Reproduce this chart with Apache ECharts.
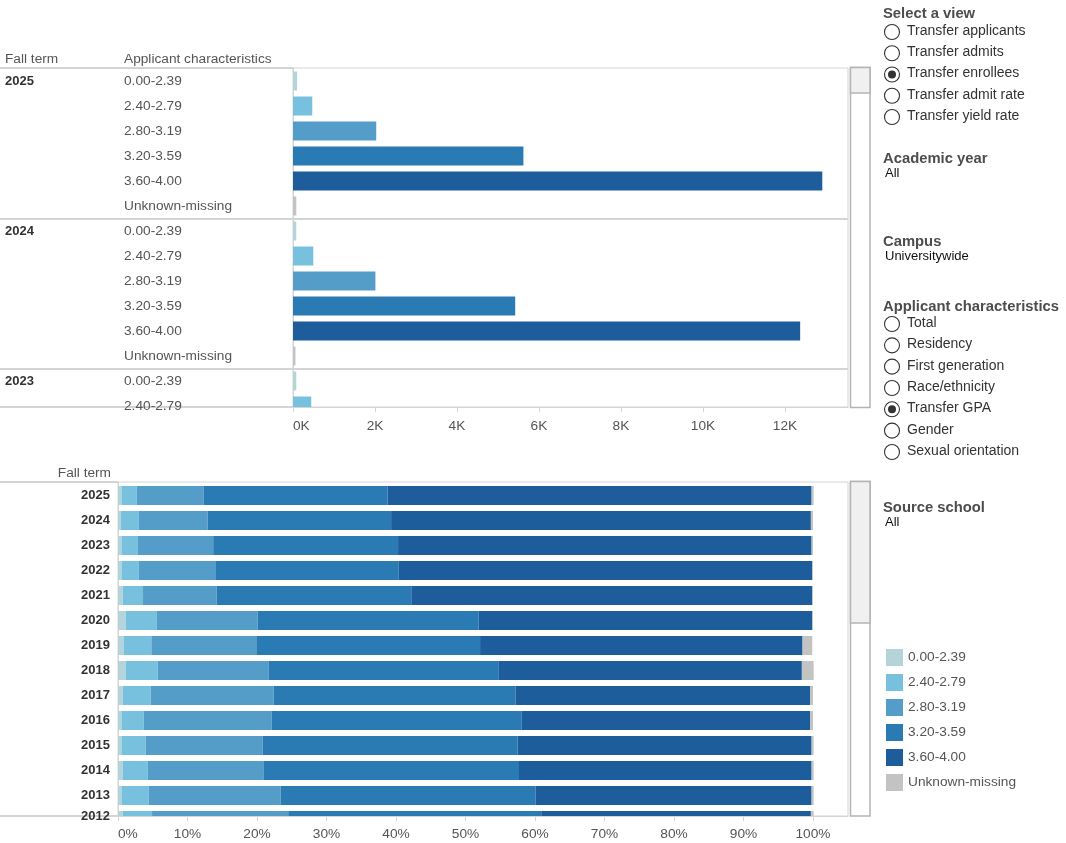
<!DOCTYPE html>
<html>
<head>
<meta charset="utf-8">
<title>Transfer enrollees by transfer GPA</title>
<script src="https://cdn.jsdelivr.net/npm/echarts@6/dist/echarts.min.js"></script>
<style>
  html, body { margin: 0; padding: 0; background: #fff; }
  #chart { width: 1066px; height: 843px; }
</style>
</head>
<body>
<div id="chart"></div>
<script>
// GPA bands, in legend order
const gpaBands = ["0.00-2.39", "2.40-2.79", "2.80-3.19", "3.20-3.59", "3.60-4.00", "Unknown-missing"];
const bandColors = ["#b4d4da", "#77c1de", "#559dc9", "#2a7ab3", "#1d5d9b", "#c3c3c3"];

// top panel: enrollee counts (only the rows visible in the scrolled view)
const topYears = ["2025", "2024", "2023"];
const enrollees2025 = [100, 470, 2030, 5620, 12910, 80];
const enrollees2024 = [80, 495, 2010, 5420, 12370, 60];
const enrollees2023 = [80, 445];
const topCounts = [enrollees2025, enrollees2024, enrollees2023];
const countTicks = [0, 2000, 4000, 6000, 8000, 10000, 12000];

// bottom panel: share of enrollees (%) per fall term
const fallTerms = ["2025", "2024", "2023", "2022", "2021", "2020", "2019", "2018", "2017", "2016", "2015", "2014", "2013", "2012"];
const shareGpa000 = [0.5, 0.4, 0.5, 0.5, 0.7, 1.1, 0.8, 1.1, 0.7, 0.5, 0.5, 0.7, 0.5, 0.7];
const shareGpa240 = [2.2, 2.6, 2.3, 2.5, 2.9, 4.5, 4.0, 4.6, 4.0, 3.2, 3.5, 3.6, 3.9, 4.2];
const shareGpa280 = [9.6, 9.9, 10.9, 11.1, 10.6, 14.5, 15.1, 16.0, 17.7, 18.4, 16.8, 16.7, 19.0, 19.6];
const shareGpa320 = [26.5, 26.4, 26.6, 26.3, 28.0, 31.8, 32.2, 33.1, 34.8, 36.0, 36.7, 36.7, 36.7, 36.4];
const shareGpa360 = [61.0, 60.4, 59.5, 59.5, 57.7, 48.0, 46.4, 43.6, 42.4, 41.5, 42.3, 42.1, 39.7, 38.8];
const shareUnknown = [0.3, 0.3, 0.2, 0.1, 0.1, 0.1, 1.4, 1.7, 0.4, 0.4, 0.3, 0.3, 0.3, 0.4];
const shares = [shareGpa000, shareGpa240, shareGpa280, shareGpa320, shareGpa360, shareUnknown];
const pctTicks = [0, 10, 20, 30, 40, 50, 60, 70, 80, 90, 100];

// filter panel text
const viewOptions = ["Transfer applicants", "Transfer admits", "Transfer enrollees", "Transfer admit rate", "Transfer yield rate"];
const charOptions = ["Total", "Residency", "First generation", "Race/ethnicity", "Transfer GPA", "Gender", "Sexual orientation"];

const FONT = "'Liberation Sans', Arial, sans-serif";
const LINE = "#d4d4d4";
const FS = 13.7;

// scrolled windows (in row units)
const topMin = -0.52, topMax = 13.04;
const botMin = -0.54, botMax = 12.82;

// horizontal bar from value(0) to value(1) on row value(2), clipped to the grid
function barShape(params, api) {
  const row = api.value(2);
  const a = api.coord([api.value(0), row]);
  const b = api.coord([api.value(1), row]);
  const h = api.size([0, 0.76])[1];
  const cs = params.coordSys;
  const rect = echarts.graphic.clipRectByRect(
    { x: a[0], y: a[1] - h / 2, width: b[0] - a[0], height: h },
    { x: cs.x, y: cs.y, width: cs.width, height: cs.height }
  );
  if (!rect) return null;
  return { type: "rect", shape: rect, style: { fill: api.visual("color") } };
}

const topRows = [];
topCounts.forEach((arr, g) => arr.forEach((v, b) => topRows.push(g * 6 + b)));

const series = [];
gpaBands.forEach((name, b) => {
  const data = [];
  topCounts.forEach((arr, g) => {
    if (b < arr.length) data.push([0, arr[b], g * 6 + b]);
  });
  series.push({
    type: "custom", name, xAxisIndex: 0, yAxisIndex: 0,
    itemStyle: { color: bandColors[b] },
    encode: { x: [0, 1], y: 2 },
    renderItem: barShape, data
  });
});
gpaBands.forEach((name, b) => {
  const data = fallTerms.map((t, i) => {
    let start = 0;
    for (let k = 0; k < b; k++) start += shares[k][i];
    return [start, start + shares[b][i], i];
  });
  series.push({
    type: "custom", name, xAxisIndex: 1, yAxisIndex: 2,
    itemStyle: { color: bandColors[b] },
    encode: { x: [0, 1], y: 2 },
    renderItem: barShape, data
  });
});

// filter panel graphics
const graphic = [];
function heading(text, y) {
  graphic.push({ type: "text", left: 883, top: y - 7, style: { text, font: "bold 14.8px " + FONT, fill: "#4d4d4d" } });
}
function plain(text, y) {
  graphic.push({ type: "text", left: 885, top: y - 7, style: { text, font: "13px " + FONT, fill: "#111" } });
}
function radios(list, y0, step, selected) {
  list.forEach((text, i) => {
    const y = y0 + step * i;
    graphic.push({ type: "circle", shape: { cx: 892, cy: y, r: 7.5 }, style: { fill: "#fff", stroke: "#333", lineWidth: 1.1 } });
    if (i === selected) graphic.push({ type: "circle", shape: { cx: 892, cy: y, r: 4 }, style: { fill: "#333" } });
    graphic.push({ type: "text", left: 907, top: y - 8, style: { text, font: "14px " + FONT, fill: "#333" } });
  });
}
heading("Select a view", 13);
radios(viewOptions, 32, 21.25, 2);
heading("Academic year", 158);
plain("All", 174);
heading("Campus", 241);
plain("Universitywide", 257);
heading("Applicant characteristics", 306);
radios(charOptions, 324, 21.33, 4);
heading("Source school", 507);
plain("All", 523);

// column headers
graphic.push({ type: "text", left: 5, top: 52, style: { text: "Fall term", font: FS + "px " + FONT, fill: "#555" } });
graphic.push({ type: "text", left: 124, top: 52, style: { text: "Applicant characteristics", font: FS + "px " + FONT, fill: "#555" } });
graphic.push({ type: "text", right: 1066 - 111, top: 466, style: { text: "Fall term", font: FS + "px " + FONT, fill: "#555", align: "right" } });

// scrollbars
graphic.push({ type: "rect", shape: { x: 850.5, y: 67.5, width: 19.5, height: 340 }, style: { fill: "#fff", stroke: "#b4b4b4", lineWidth: 1.5 } });
graphic.push({ type: "rect", shape: { x: 850.5, y: 67.5, width: 19.5, height: 25.5 }, style: { fill: "#f0f0f0", stroke: "#b4b4b4", lineWidth: 1.5 } });
graphic.push({ type: "rect", shape: { x: 850.5, y: 481.5, width: 19.5, height: 334.5 }, style: { fill: "#fff", stroke: "#b4b4b4", lineWidth: 1.5 } });
graphic.push({ type: "rect", shape: { x: 850.5, y: 481.5, width: 19.5, height: 141.5 }, style: { fill: "#f0f0f0", stroke: "#b4b4b4", lineWidth: 1.5 } });

const option = {
  animation: false,
  textStyle: { fontFamily: FONT },
  grid: [
    { left: 293, top: 68, width: 555, height: 339, outerBoundsMode: "none", show: true, borderColor: LINE, borderWidth: 1, backgroundColor: "transparent" },
    { left: 118, top: 482, width: 730, height: 334, outerBoundsMode: "none", show: true, borderColor: LINE, borderWidth: 1, backgroundColor: "transparent" }
  ],
  xAxis: [
    {
      gridIndex: 0, type: "value", position: "bottom", min: 0, max: 13537,
      axisLine: { show: true, onZero: false, lineStyle: { color: LINE } },
      axisTick: { show: true, customValues: countTicks, length: 5, lineStyle: { color: LINE } },
      splitLine: { show: false },
      axisLabel: { customValues: countTicks, formatter: (v) => v / 1000 + "K", color: "#555", fontSize: FS, margin: 12, alignMinLabel: "left" }
    },
    {
      gridIndex: 1, type: "value", position: "bottom", min: 0, max: 105.04,
      axisLine: { show: true, onZero: false, lineStyle: { color: LINE } },
      axisTick: { show: true, customValues: pctTicks, length: 5, lineStyle: { color: LINE } },
      splitLine: { show: false },
      axisLabel: { customValues: pctTicks, formatter: (v) => v + "%", color: "#555", fontSize: FS, margin: 11, alignMinLabel: "left" }
    }
  ],
  yAxis: [
    {
      gridIndex: 0, type: "value", position: "left", inverse: true, min: topMin, max: topMax,
      axisLine: { show: true, onZero: false, lineStyle: { color: LINE } },
      axisTick: { show: true, inside: true, customValues: [5.5, 11.5], length: 555, lineStyle: { color: LINE, width: 2 } },
      splitLine: { show: false },
      axisLabel: { customValues: topRows, formatter: (v) => gpaBands[Math.round(v) % 6], align: "left", margin: 169, color: "#555", fontSize: FS, padding: [0, 0, 2, 0] }
    },
    {
      gridIndex: 0, type: "value", position: "left", offset: 0, inverse: true, min: topMin, max: topMax,
      axisLine: { show: false, onZero: false },
      axisTick: { show: true, customValues: [topMin, 5.5, 11.5, topMax], length: 293, lineStyle: { color: LINE, width: 2 } },
      splitLine: { show: false },
      axisLabel: { customValues: [0, 6, 12], formatter: (v) => topYears[Math.round(v / 6)], align: "left", margin: 288, color: "#333", fontSize: 13, fontWeight: "bold", padding: [0, 0, 2, 0] }
    },
    {
      gridIndex: 1, type: "value", position: "left", inverse: true, min: botMin, max: botMax,
      axisLine: { show: true, onZero: false, lineStyle: { color: LINE } },
      axisTick: { show: true, customValues: [botMin, botMax], length: 118, lineStyle: { color: LINE, width: 2 } },
      splitLine: { show: false },
      axisLabel: {
        customValues: fallTerms.map((t, i) => Math.min(i, botMax)),
        formatter: (v) => fallTerms[Math.round(v)], margin: 8, color: "#333", fontSize: 13, fontWeight: "bold", padding: [0, 0, 3, 0]
      }
    }
  ],
  legend: {
    data: gpaBands, orient: "vertical", left: 886, top: 649, padding: 0,
    itemWidth: 17, itemHeight: 17, itemGap: 8, icon: "rect", selectedMode: false,
    textStyle: { color: "#555", fontSize: FS, fontFamily: FONT }
  },
  graphic,
  series
};

const chart = echarts.init(document.getElementById("chart"), null, { renderer: "canvas" });
chart.setOption(option);
</script>
</body>
</html>
